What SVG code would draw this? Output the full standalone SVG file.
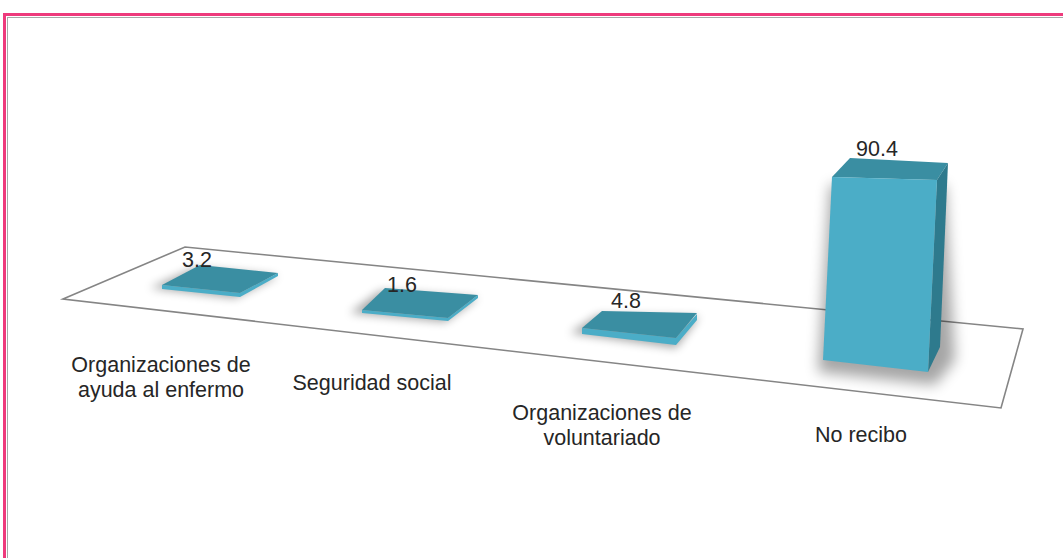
<svg xmlns="http://www.w3.org/2000/svg" width="1063" height="558" viewBox="0 0 1063 558">
<defs>
<style>
.lbl{font-family:"Liberation Sans",Arial,sans-serif;font-size:21.5px;fill:#262626;text-anchor:middle}
.top{fill:#3A8EA2}
.front{fill:#4BADC7}
.side{fill:#2E7A8D}
.shadow{fill:#000;opacity:0.35;filter:url(#blur)}
</style>
<filter id="blur" x="-30%" y="-60%" width="160%" height="220%"><feGaussianBlur stdDeviation="5"/></filter>
<filter id="blur2" x="-30%" y="-30%" width="160%" height="160%"><feGaussianBlur stdDeviation="7"/></filter>
</defs>
<rect width="1063" height="558" fill="#fff"/>
<g id="frame">
<rect x="4.5" y="14.5" width="1100" height="600" fill="none" stroke="#EE3A7C" stroke-width="3"/>
<rect x="7.5" y="17.5" width="1100" height="600" fill="none" stroke="#A8A8A8" stroke-width="1"/>
</g>
<g id="floor">
<polygon points="63,299 185,247 1023,329 1001,408" fill="#fff" stroke="#858585" stroke-width="1.6"/>
</g>
<g id="bar1">
<polygon class="shadow" points="150,288 195,268 278,276 235,298"/>
<polygon class="front" points="162,285 240,293 278,273 278,276 240,297 162,289"/>
<polygon class="top" points="162,285 200,265 278,273 240,293"/>
<text class="lbl" x="197" y="267">3.2</text>
</g>
<g id="bar2">
<polygon class="shadow" points="350,313 380,291 478,298 445,322"/>
<polygon class="front" points="362,310 448,318 478,295 478,298 448,321 362,313"/>
<polygon class="top" points="362,310 385,288 478,295 448,318"/>
<text class="lbl" x="402" y="292">1.6</text>
</g>
<g id="bar3">
<polygon class="shadow" points="570,333 598,315 699,317 676,348"/>
<polygon class="front" points="582,328 676,338 697,314 697,320 676,345 582,334"/>
<polygon class="top" points="582,328 602,311 697,313 676,338"/>
<text class="lbl" x="626" y="308">4.8</text>
</g>
<g id="bar4">
<polygon points="830,185 945,185 955,360 935,385 818,372" fill="#000" opacity="0.35" filter="url(#blur2)"/>
<polygon class="top" points="832,177 850,158 948,163 937,180"/>
<polygon class="side" points="937,180 948,163 940,347 928,372"/>
<polygon class="front" points="832,177 937,180 928,372 823,360"/>
<text class="lbl" x="877" y="156">90.4</text>
</g>
<g id="labels">
<text class="lbl" x="161" y="372">Organizaciones de</text>
<text class="lbl" x="161" y="397">ayuda al enfermo</text>
<text class="lbl" x="372" y="390">Seguridad social</text>
<text class="lbl" x="602" y="420">Organizaciones de</text>
<text class="lbl" x="602" y="445">voluntariado</text>
<text class="lbl" x="861" y="442">No recibo</text>
</g>
</svg>
